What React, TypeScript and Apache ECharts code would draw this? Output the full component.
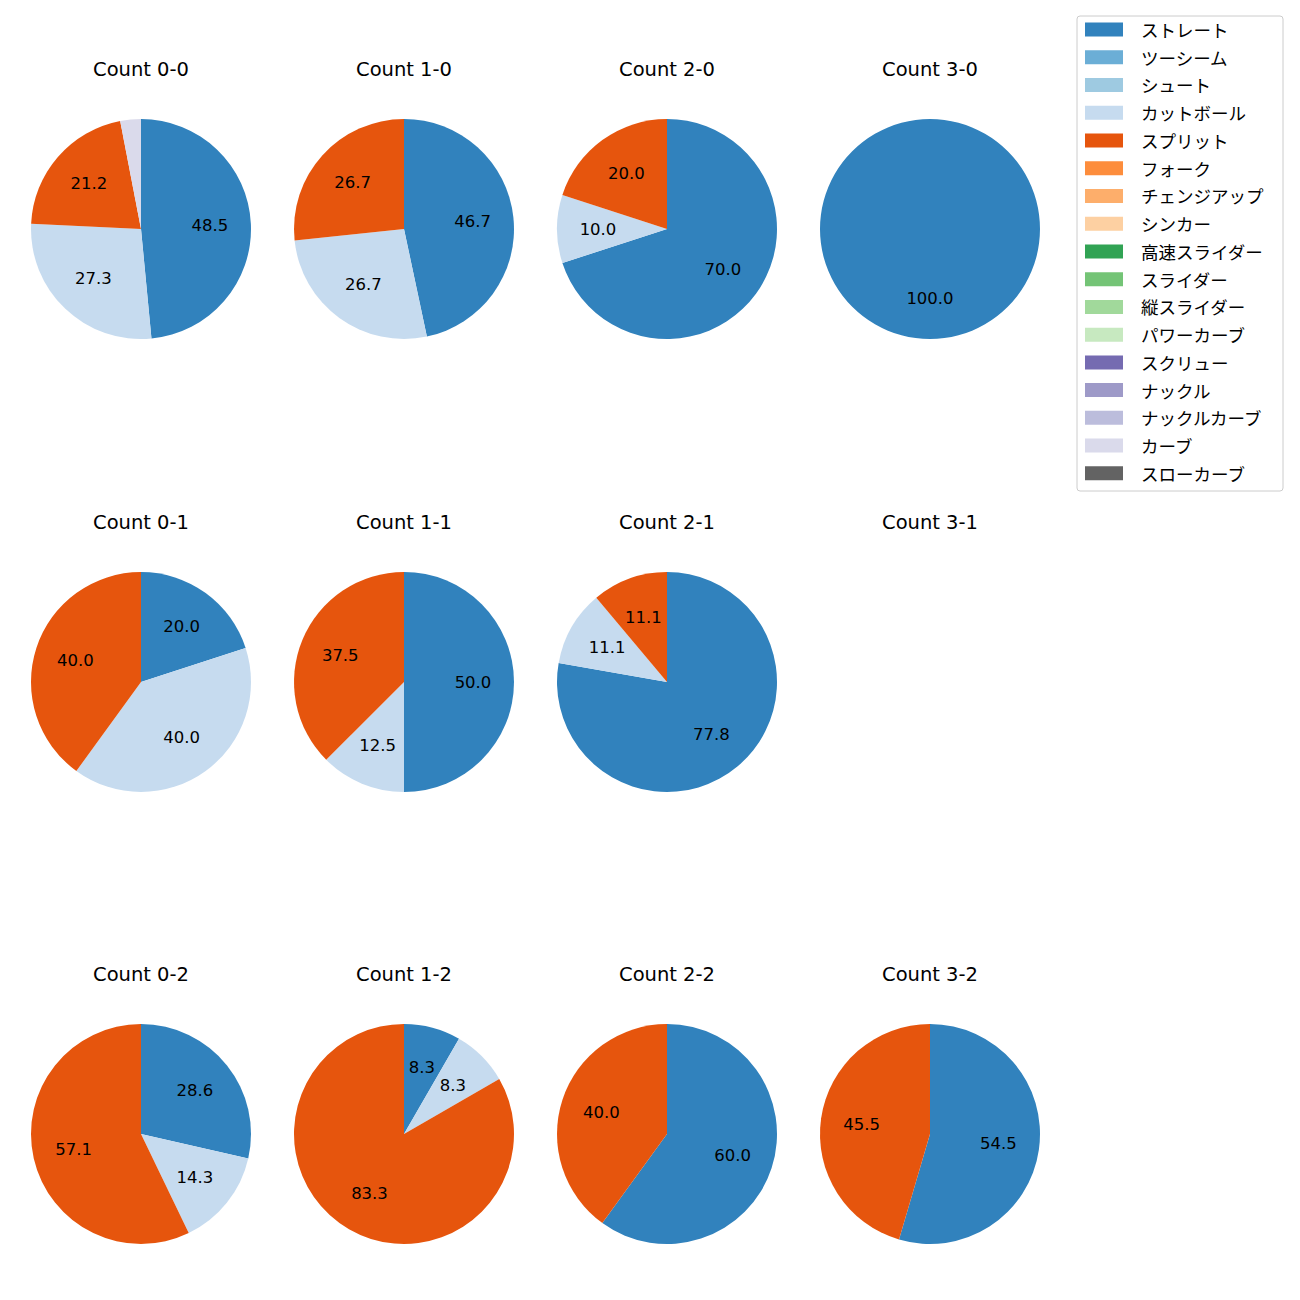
import React, { useEffect, useRef } from "react";
import * as echarts from "echarts";

const pitchTypes = [
  "ストレート", "ツーシーム", "シュート", "カットボール", "スプリット", "フォーク",
  "チェンジアップ", "シンカー", "高速スライダー", "スライダー", "縦スライダー",
  "パワーカーブ", "スクリュー", "ナックル", "ナックルカーブ", "カーブ", "スローカーブ",
];
const palette = [
  "#3182bd", "#6baed6", "#9ecae1", "#c6dbef", "#e6550d", "#fd8d3c", "#fdae6b",
  "#fdd0a2", "#31a354", "#74c476", "#a1d99b", "#c7e9c0", "#756bb1", "#9e9ac8",
  "#bcbddc", "#dadaeb", "#636363",
];

// grid order: row 0: 0-0..3-0, row 1: 0-1..3-1, row 2: 0-2..3-2
const countLabels = [
  "Count 0-0", "Count 1-0", "Count 2-0", "Count 3-0",
  "Count 0-1", "Count 1-1", "Count 2-1", "Count 3-1",
  "Count 0-2", "Count 1-2", "Count 2-2", "Count 3-2",
];
const straight = [16, 7, 7, 2, 1, 4, 7, 0, 2, 1, 3, 6];
const cutball = [9, 4, 1, 0, 2, 1, 1, 0, 1, 1, 0, 0];
const split = [7, 4, 2, 0, 2, 3, 1, 0, 4, 10, 2, 5];
const curve = [1, 0, 0, 0, 0, 0, 0, 0, 0, 0, 0, 0];

const seriesByType: Record<string, number[]> = {
  "ストレート": straight,
  "カットボール": cutball,
  "スプリット": split,
  "カーブ": curve,
};

const FONT = "'DejaVu Sans', 'Noto Sans CJK JP', sans-serif";
const JFONT = "'Noto Sans CJK JP', sans-serif";

export default function App() {
  const ref = useRef<HTMLDivElement>(null);
  useEffect(() => {
    if (!ref.current) return;
    const chart = echarts.init(ref.current, null, { renderer: "svg" });
    const colX = [141, 404, 667, 930];
    const rowY = [229, 682, 1134];
    const R = 110;
    const series: any[] = [];
    const graphics: any[] = [];
    countLabels.forEach((title, i) => {
      const cx = colX[i % 4];
      const cy = rowY[Math.floor(i / 4)];
      graphics.push({
        type: "text",
        x: cx,
        y: cy - 160,
        style: {
          text: title,
          fill: "#000",
          font: `19.5px ${FONT}`,
          textAlign: "center",
          textVerticalAlign: "middle",
        },
      });
      const data = pitchTypes
        .map((name, k) => ({
          name,
          value: seriesByType[name] ? seriesByType[name][i] : 0,
          itemStyle: { color: palette[k] },
        }))
        .filter((d) => d.value > 0);
      if (data.length === 0) return;
      series.push({
        type: "pie",
        center: [cx, cy],
        radius: [0, R],
        startAngle: 90,
        clockwise: true,
        data,
        label: { show: false },
        labelLine: { show: false },
        silent: true,
        avoidLabelOverlap: false,
      });
      series.push({
        type: "pie",
        center: [cx, cy],
        radius: [R * 0.2, R],
        startAngle: 90,
        clockwise: true,
        data: data.map((d) => ({ ...d, itemStyle: { color: "rgba(0,0,0,0)" } })),
        silent: true,
        avoidLabelOverlap: false,
        label: {
          show: true,
          position: "inside",
          color: "#000",
          fontSize: 16.5,
          fontFamily: FONT,
          formatter: (p: any) => (p.percent >= 5 ? p.percent.toFixed(1) : ""),
        },
        labelLine: { show: false },
      });
    });

    // legend
    const lx = 1077, ly = 16, lw = 206, lh = 475;
    graphics.push({
      type: "rect",
      shape: { x: lx, y: ly, width: lw, height: lh, r: 3 },
      style: { fill: "#fff", stroke: "#cccccc", lineWidth: 1 },
    });
    pitchTypes.forEach((name, k) => {
      const yc = 29.5 + k * 27.74;
      graphics.push({
        type: "rect",
        shape: { x: 1085, y: yc - 7, width: 38, height: 14 },
        style: { fill: palette[k] },
      });
      graphics.push({
        type: "text",
        x: 1141,
        y: yc,
        style: {
          text: name,
          fill: "#000",
          font: `17.5px ${JFONT}`,
          textAlign: "left",
          textVerticalAlign: "middle",
        },
      });
    });

    chart.setOption({
      animation: false,
      backgroundColor: "#fff",
      series,
      graphic: graphics,
    });
    return () => chart.dispose();
  }, []);
  return (
    <div
      ref={ref}
      style={{ position: "absolute", left: 0, top: 0, width: 1300, height: 1300 }}
    />
  );
}
